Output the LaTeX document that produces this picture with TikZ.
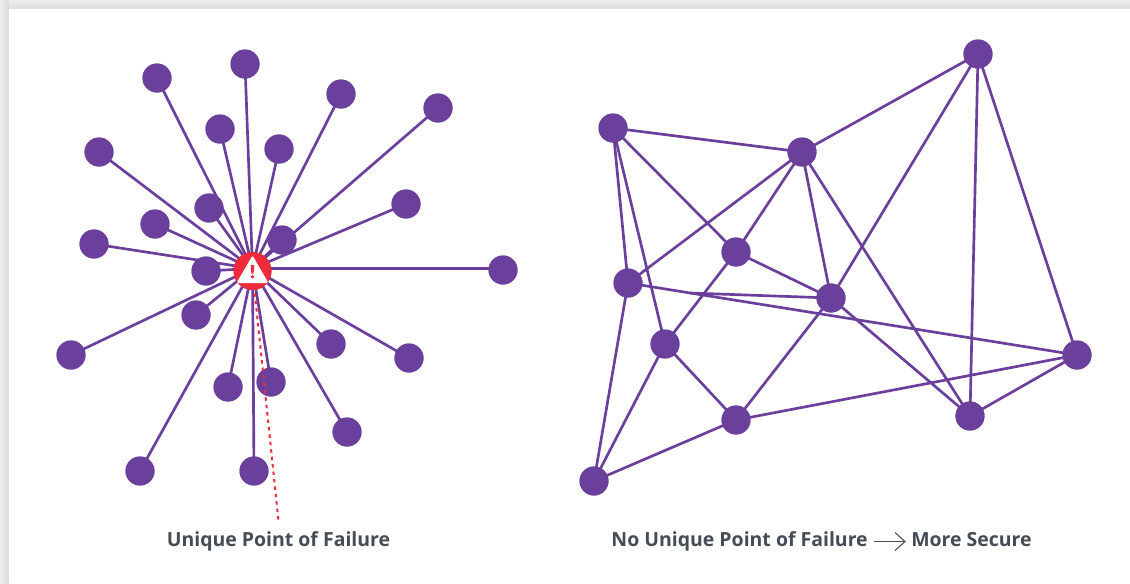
\documentclass[tikz,border=0pt]{standalone}
\usepackage{fontspec}
\setmainfont{Open Sans}
\definecolor{pur}{HTML}{6B3F9C}
\definecolor{alarm}{HTML}{EE2B3B}
\definecolor{txt}{HTML}{454C56}
\definecolor{shadow}{HTML}{DCDCDC}
\tikzset{
  dot/.style={circle,fill=pur,minimum size=29*0.75pt,inner sep=0pt},
  hubnode/.style={circle,fill=alarm,minimum size=38*0.75pt,inner sep=0pt},
  link/.style={draw=pur,line width=2pt},
  failure/.style={draw=alarm,line width=1.5pt,dash pattern=on 2.6pt off 3pt},
  caption/.style={text=txt,font=\bfseries\fontsize{14.6}{18}\selectfont,inner sep=0pt,anchor=base}
}
\begin{document}
\begin{tikzpicture}[x=0.75pt,y=-0.75pt]
\useasboundingbox (0,0) rectangle (1130,583);
\fill[white] (0,0) rectangle (1130,583);
\shade[top color=white!50!shadow,bottom color=shadow] (0,0) rectangle (1130,9);
\shade[left color=white!50!shadow,right color=shadow] (0,0) rectangle (9,583);
\fill[white] (9,9) rectangle (1130,583);
% left
\node[hubnode] (hub) at (252.5,271) {};
\coordinate (hubc) at (252.5,268.5);
\foreach \n/\x/\y in {a/157/78,b/245/64,c/341/94,d/438/108,e/220/129,f/279/149,g/99/152,h/209/208,i/155/224,j/282/240,k/406/204,l/94/244,m/206/271,n/503/270,o/196/315,p/71/355,q/331/344,r/409/358,s/228/387,t/271/382,u/347/432,v/140/471,w/254/471}{
  \node[dot] (\n) at (\x,\y) {};
}
\foreach \n in {a,b,c,d,e,f,g,h,i,j,k,l,m,o,p,q,r,s,t,u,v,w}{
  \draw[link] (hubc) -- (\n.center);
}
\draw[link] (hubc) -- (hubc -| n.center);
\foreach \n/\x/\y in {a/157/78,b/245/64,c/341/94,d/438/108,e/220/129,f/279/149,g/99/152,h/209/208,i/155/224,j/282/240,k/406/204,l/94/244,m/206/271,n/503/270,o/196/315,p/71/355,q/331/344,r/409/358,s/228/387,t/271/382,u/347/432,v/140/471,w/254/471}{
  \node[dot] at (\x,\y) {};
}
\coordinate (failend) at (278.5,521);
\draw[failure] (hub.center) -- (failend);
\node[hubnode] at (252.5,271) {};
\fill[white,rounded corners=1.5pt] (252.5,255.5) -- (268.5,283) -- (236.5,283) -- cycle;
\fill[alarm] (250.7,265) -- (254.3,265) -- (253.6,273.5) -- (251.4,273.5) -- cycle;
\fill[alarm] (252.5,276.8) circle (1.9);
% right
\foreach \n/\x/\y in {A/613/128,B/802/152,C/978/54,D/736/252,E/628/283,F/831/298,G/665/344,H/1077/355,I/736/420,J/970/416,K/594/481}{
  \node[dot] (\n) at (\x,\y) {};
}
\coordinate (Ebranch) at (690,293);
\foreach \p/\q in {A/B,A/D,A/E,A/G,B/C,B/E,B/D,B/F,B/J,C/F,C/J,C/H,D/F,D/G,E/H,E/K,F/I,F/J,G/I,G/K,H/I,H/J,I/K,Ebranch/F}{
  \draw[link] (\p.center) -- (\q.center);
}
\foreach \n/\x/\y in {A/613/128,B/802/152,C/978/54,D/736/252,E/628/283,F/831/298,G/665/344,H/1077/355,I/736/420,J/970/416,K/594/481}{
  \node[dot] at (\x,\y) {};
}
% captions
\node[caption] (cap1) at (278.5,546.5) {Unique Point of Failure};
\node[caption,anchor=base east] (cap2) at (868,546.5) {No Unique Point of Failure};
\node[caption,anchor=base west] (cap3) at (911,546.5) {More Secure};
\coordinate (ar1) at (874,541.5);
\coordinate (ar2) at (905,541.5);
\draw[txt,line width=0.8pt] (ar1) -- (ar2);
\draw[txt,line width=0.8pt,line join=miter] (895,532.5) -- (ar2) -- (895,550.5);
\end{tikzpicture}
\end{document}
